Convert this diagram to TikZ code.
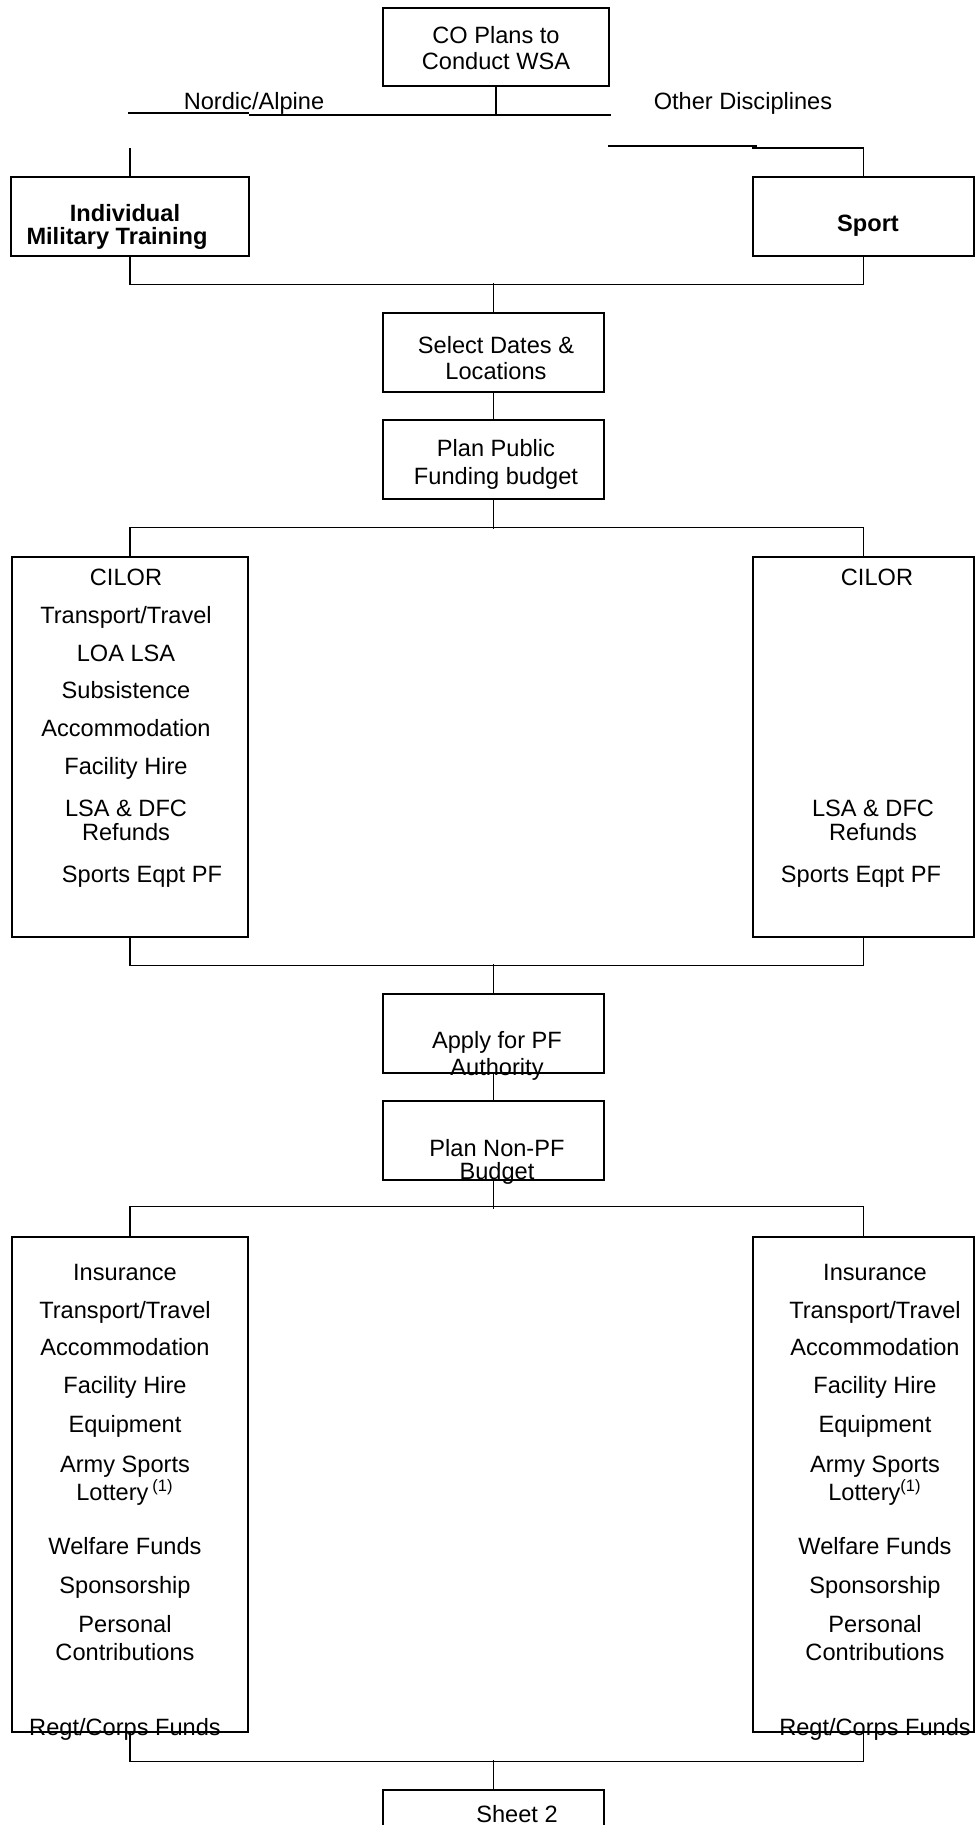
\documentclass[tikz,border=0pt]{standalone}
\usepackage{fontspec}
\setmainfont{Liberation Sans}
\usepackage{tikz}
\usetikzlibrary{positioning}

\tikzset{
	box/.style = {draw, rectangle, inner sep=0pt, minimum width=110.5pt, minimum height=39.5pt},
	tall/.style = {box, minimum height=190pt},
	txt/.style = {anchor=base, inner sep=0pt, font=\fontsize{11.8}{13}\selectfont},
	bold/.style = {txt, font=\fontsize{11.8}{13}\selectfont\bfseries}
}

\begin{document}
\begin{tikzpicture}[x=0.5pt, y=-0.5pt, line width=0.7pt, node distance={53.5pt}]
	\useasboundingbox (0,0) rectangle (977,1825);
	\node[box, minimum width=113pt, minimum height=39pt] (1) at (496,47) {};
	\node[box, minimum width=119pt] (2) at (130,216.5) {};
	\node[box] (3) at (863.5,216.5) {};
	\node[box] (4) at (493.5,352.5) {};
	\node[box] (5) [below of =4] {};
	\node[tall, minimum width=118pt] (6) at (130,747) {};
	\node[tall] (7) at (863.5,747) {};
	\node[box] (8) at (493.5,1033.5) {};
	\node[box] (9) [below of =8] {};
	\node[box, minimum width=118pt, minimum height=247.5pt] (10) at (130,1484.5) {};
	\node[box, minimum height=247.5pt] (11) at (863.5,1484.5) {};
	\node[box, minimum height=40pt] (12) at (493.5,1830) {};

	\coordinate (a1) at (128,113);
	\coordinate (a2) at (249,113);
	\coordinate (a3) at (611,115);
	\coordinate (b1) at (608,146);
	\coordinate (b2) at (757,146);
	\coordinate (b3) at (752,148);
	\coordinate (c1) at (130,148);
	\draw (1) -- (1 |- a3);
	\draw (a1) -- (a2);
	\draw (a2 |- a3) -- (a3);
	\draw (b1) -- (b2);
	\draw (b3) -| (3);
	\draw (c1) -- (2);
	\draw (2.south) -- ++(0,28) -| (3.south);
	\draw (4.north) -- ++(0,-29);
	\draw (4) -- (5);
	\draw (5.south) -- ++(0,29);
	\draw (6.north) -- ++(0,-29) -| (7.north);
	\draw (6.south) -- ++(0,28) -| (7.south);
	\draw (8.north) -- ++(0,-29);
	\draw (8) -- (9);
	\draw (9.south) -- ++(0,28);
	\draw (10.north) -- ++(0,-30) -| (11.north);
	\draw (10.south) -- ++(0,29) -| (11.south);
	\draw (12.north) -- ++(0,-29);

	\node[txt] (t1) at (496,44) {CO Plans to};
	\node[txt] (t2) at (496,70) {Conduct WSA};
	\node[txt] (t3) at (254,110) {Nordic/Alpine};
	\node[txt] (t4) at (743,110) {Other Disciplines};
	\node[bold] (t5) at (125,221) {Individual};
	\node[bold] (t6) at (117,244) {Military Training};
	\node[bold] (t7) at (868,231) {Sport};
	\node[txt] (t8) at (496,353) {Select Dates \&};
	\node[txt] (t9) at (496,379) {Locations};
	\node[txt] (t10) at (496,456) {Plan Public};
	\node[txt] (t11) at (496,484) {Funding budget};
	\node[txt] (t12) at (497,1048) {Apply for PF};
	\node[txt] (t13) at (497,1075) {Authority};
	\node[txt] (t14) at (497,1156) {Plan Non-PF};
	\node[txt] (t15) at (497,1179) {Budget};
	\node[txt] (t16) at (517,1822) {Sheet 2};

	\foreach \y/\t [count=\i] in {585/CILOR, 623/{Transport/Travel}, 661/LOA LSA, 698/Subsistence,
		736/Accommodation, 774/Facility Hire, 816/LSA \& DFC, 840/Refunds}
		\node[txt] (l\i) at (126,\y) {\t};
	\node[txt] (l9) at (142,882) {Sports Eqpt PF};
	\node[txt] (r1) at (877,585) {CILOR};
	\node[txt] (r2) at (873,816) {LSA \& DFC};
	\node[txt] (r3) at (873,840) {Refunds};
	\node[txt] (r4) at (861,882) {Sports Eqpt PF};

	\foreach \y/\t [count=\i] in {1280/Insurance, 1318/{Transport/Travel}, 1355/Accommodation,
		1393/Facility Hire, 1432/Equipment, 1472/Army Sports, 1500/Lottery\,\textsuperscript{(1)},
		1554/Welfare Funds, 1593/Sponsorship, 1632/Personal, 1660/Contributions, 1735/{Regt/Corps Funds}}
		\node[txt] (m\i) at (125,\y) {\t};
	\foreach \y/\t [count=\i] in {1280/Insurance, 1318/{Transport/Travel}, 1355/Accommodation,
		1393/Facility Hire, 1432/Equipment, 1472/Army Sports, 1500/Lottery\textsuperscript{(1)},
		1554/Welfare Funds, 1593/Sponsorship, 1632/Personal, 1660/Contributions, 1735/{Regt/Corps Funds}}
		\node[txt] (n\i) at (875,\y) {\t};
\end{tikzpicture}
\end{document}
